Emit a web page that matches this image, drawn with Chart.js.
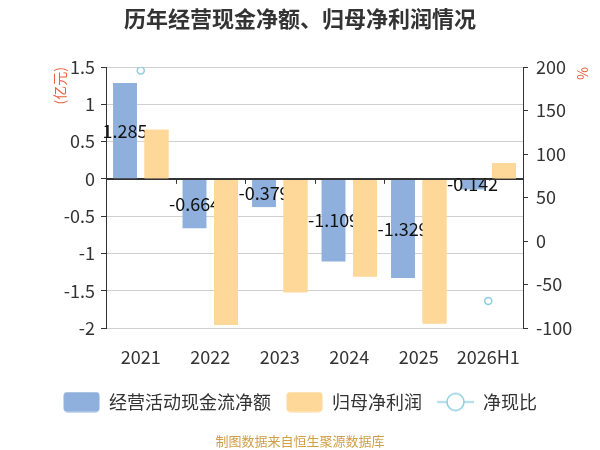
<!DOCTYPE html>
<html>
<head>
<meta charset="utf-8">
<script src="https://cdn.jsdelivr.net/npm/chart.js@4.4.1/dist/chart.umd.min.js"></script>
<style>
  html, body { margin: 0; padding: 0; background: #fff; }
  #wrap { width: 600px; height: 450px; }
</style>
</head>
<body>
<div id="wrap"><canvas id="grafica"></canvas></div>
<script>
// datos del grafico
const categorias = ['2021', '2022', '2023', '2024', '2025', '2026H1'];
const flujoCaja = [1.285, -0.664, -0.379, -1.109, -1.329, -0.142];   // 经营活动现金流净额 (亿元)
const utilidad = [0.66, -1.96, -1.52, -1.31, -1.94, 0.21];          // 归母净利润 (亿元)
const ratio = [196, null, null, null, null, -69];                    // 净现比 (%)
const etiquetas = ['经营活动现金流净额', '归母净利润', '净现比'];

const fuente = '"Noto Sans CJK SC", "Noto Sans", sans-serif';
const azul = '#8fb0dd';
const naranja = '#fed898';
const celeste = '#8ccde0';

// iconos de la leyenda
function icono(tipo) {
    const c = document.createElement('canvas');
    c.width = 37; c.height = 21;
    const g = c.getContext('2d');
    if (tipo === 'linea') {
        g.strokeStyle = celeste;
        g.lineWidth = 1.5;
        g.beginPath(); g.moveTo(0, 10.5); g.lineTo(37, 10.5); g.stroke();
        g.fillStyle = '#fff';
        g.beginPath(); g.arc(18.5, 10.5, 8.5, 0, Math.PI * 2); g.fill(); g.stroke();
    } else {
        g.fillStyle = tipo;
        g.beginPath(); g.roundRect(0.5, 0.5, 36, 20, 4); g.fill();
    }
    return c;
}
const iconos = [icono(azul), icono(naranja), icono('linea')];

// etiquetas sobre las barras azules, la linea del cero y el pie
const extras = {
    id: 'extras',
    afterDatasetsDraw(chart) {
        const ctx = chart.ctx;
        const y = chart.scales.y;
        const x = chart.scales.x;
        const area = chart.chartArea;
        const cero = y.getPixelForValue(0);
        ctx.save();
        // valores de flujo de caja
        ctx.font = '18px ' + fuente;
        ctx.fillStyle = '#111';
        ctx.textAlign = 'center';
        ctx.textBaseline = 'middle';
        chart.getDatasetMeta(0).data.forEach((el, i) => {
            ctx.fillText(String(flujoCaja[i]), el.x, (el.y + el.base) / 2);
        });
        // las barras naranjas tapan las etiquetas
        chart.getDatasetMeta(1).data.forEach(el => el.draw(ctx));
        // eje x sobre el cero
        ctx.strokeStyle = '#333';
        ctx.lineWidth = 1;
        ctx.beginPath();
        ctx.moveTo(area.left, Math.round(cero) + 0.5);
        ctx.lineTo(area.right, Math.round(cero) + 0.5);
        const paso = (area.right - area.left) / categorias.length;
        for (let i = 1; i < categorias.length; i++) {
            const px = Math.round(x.getPixelForValue(i) - paso / 2) + 0.5;
            ctx.moveTo(px, cero);
            ctx.lineTo(px, cero + 5);
        }
        ctx.stroke();
        ctx.restore();
    },
    afterDraw(chart) {
        const ctx = chart.ctx;
        ctx.save();
        ctx.font = '13px ' + fuente;
        ctx.fillStyle = '#d0a048';
        ctx.textAlign = 'center';
        ctx.textBaseline = 'middle';
        ctx.fillText('制图数据来自恒生聚源数据库', chart.width / 2, 441);
        ctx.restore();
    }
};

const ctx = document.getElementById('grafica').getContext('2d');
const chart = new Chart(ctx, {
    data: {
        labels: categorias,
        datasets: [{
            type: 'bar',
            label: etiquetas[0],
            data: flujoCaja,
            backgroundColor: azul,
            yAxisID: 'y',
            categoryPercentage: 0.906,
            barPercentage: 0.76
        }, {
            type: 'bar',
            label: etiquetas[1],
            data: utilidad,
            backgroundColor: naranja,
            yAxisID: 'y',
            categoryPercentage: 0.906,
            barPercentage: 0.76
        }, {
            type: 'line',
            label: etiquetas[2],
            data: ratio,
            yAxisID: 'y2',
            showLine: false,
            pointRadius: 3.5,
            pointBorderWidth: 1.5,
            pointBorderColor: celeste,
            pointBackgroundColor: '#fff'
        }]
    },
    options: {
        responsive: true,
        maintainAspectRatio: false,
        animation: false,
        events: [],
        layout: {
            padding: { left: 6, right: 6, top: 0, bottom: 29 }
        },
        plugins: {
            title: {
                display: true,
                text: '历年经营现金净额、归母净利润情况',
                color: '#333',
                font: { family: fuente, size: 22, weight: 'bold' },
                padding: { top: 5, bottom: 35.6 }
            },
            legend: {
                position: 'bottom',
                labels: {
                    usePointStyle: true,
                    pointStyleWidth: 37,
                    padding: 15,
                    color: '#333',
                    font: { family: fuente, size: 18 },
                    generateLabels: () => etiquetas.map((t, i) => ({
                        text: t,
                        pointStyle: iconos[i],
                        datasetIndex: i,
                        fontColor: '#333',
                        fillStyle: 'transparent',
                        strokeStyle: 'transparent',
                        lineWidth: 0,
                        hidden: false
                    }))
                }
            },
            tooltip: { enabled: false }
        },
        scales: {
            x: {
                grid: { display: false },
                border: { display: false },
                ticks: { color: '#333', font: { family: fuente, size: 18 }, padding: 10 },
                afterFit: s => { s.height = 50; }
            },
            y: {
                position: 'left',
                min: -2,
                max: 1.5,
                ticks: {
                    stepSize: 0.5,
                    color: '#333',
                    font: { family: fuente, size: 18 },
                    padding: 6,
                    callback: v => String(v)
                },
                grid: {
                    color: c => (c.tick && c.tick.value === 0 ? '#333' : '#d0d0d0'),
                    tickColor: '#333',
                    tickLength: 5
                },
                border: { display: true, color: '#333' },
                title: {
                    display: true,
                    text: '(亿元)',
                    align: 'end',
                    color: '#e8603c',
                    font: { family: fuente, size: 14 },
                    padding: { top: 45, bottom: 3 }
                },
                afterFit: s => { s.width = 100; }
            },
            y2: {
                position: 'right',
                min: -100,
                max: 200,
                ticks: {
                    stepSize: 50,
                    color: '#333',
                    font: { family: fuente, size: 18 },
                    padding: 8,
                    callback: v => String(v)
                },
                grid: { drawOnChartArea: false, tickColor: '#333', tickLength: 5 },
                border: { display: true, color: '#333' },
                title: {
                    display: true,
                    text: '%',
                    align: 'end',
                    color: '#e8603c',
                    font: { family: fuente, size: 14 },
                    padding: { top: 3, bottom: 3 }
                },
                afterFit: s => { s.width = 71; }
            }
        }
    },
    plugins: [extras]
});
</script>
</body>
</html>
